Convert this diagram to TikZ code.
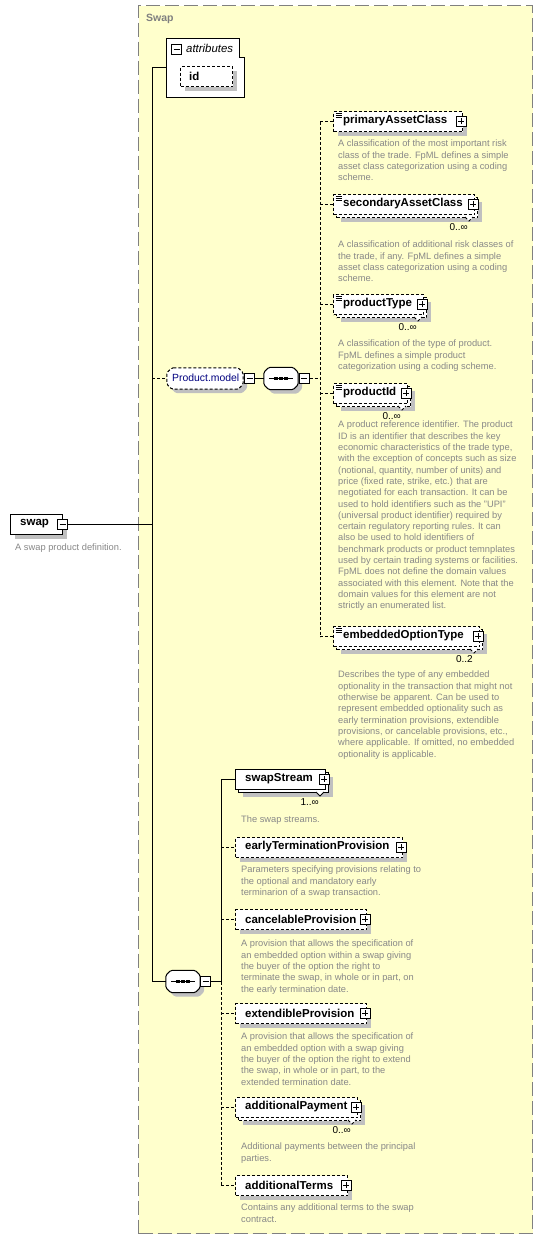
\documentclass[tikz,border=0pt]{standalone}
\usepackage{fontspec}
\setmainfont{Liberation Sans}
\usetikzlibrary{shadows}
\definecolor{yel}{RGB}{255,255,204}
\definecolor{shc}{RGB}{192,192,192}
\definecolor{dscc}{RGB}{136,136,136}
\definecolor{grpc}{RGB}{128,128,128}
\definecolor{navyc}{RGB}{0,0,128}
\tikzset{
 ebox/.style={draw=black, fill=white, line width=1pt, rectangle, inner sep=0pt, anchor=north west},
 opt/.style={dash pattern=on 3pt off 2pt},
 req/.style={},
 shad/.style={drop shadow={shadow xshift=4pt, shadow yshift=-4pt, fill=shc, draw=none, opacity=1}},
 lbl/.style={font=\fontsize{11.5}{13}\selectfont\bfseries, inner sep=0pt, anchor=west},
 dsc/.style={font=\fontsize{9.3}{11.3}\selectfont, text=dscc, align=left, inner sep=0pt, anchor=north west},
 occ/.style={font=\fontsize{10}{12}\selectfont, inner sep=0pt, anchor=east},
 pbox/.style={draw, fill=white, line width=1pt, minimum size=10pt, inner sep=0pt,
   path picture={\draw[line width=1pt] ([xshift=2pt]path picture bounding box.west) -- ([xshift=-2pt]path picture bounding box.east);
                 \draw[line width=1pt] ([yshift=-2pt]path picture bounding box.north) -- ([yshift=2pt]path picture bounding box.south);}},
 mbox/.style={draw, fill=white, line width=1pt, minimum size=10pt, inner sep=0pt,
   path picture={\draw[line width=1pt] ([xshift=2pt]path picture bounding box.west) -- ([xshift=-2pt]path picture bounding box.east);}},
 hold/.style={rectangle, inner sep=0pt},
 conn/.style={line width=1pt},
 dconn/.style={line width=1pt, dash pattern=on 3pt off 2pt},
}
% chamfered outline of a node: name, chamfer, offset x, offset y
\newcommand\champath[4]{([shift={(#3+#2,#4)}]#1.north west) -- ([shift={(#3-#2,#4)}]#1.north east) -- ([shift={(#3,#4+#2)}]#1.north east) -- ([shift={(#3,#4-#2)}]#1.south east) -- ([shift={(#3-#2,#4)}]#1.south east) -- ([shift={(#3+#2,#4)}]#1.south west) -- ([shift={(#3,#4-#2)}]#1.south west) -- ([shift={(#3,#4+#2)}]#1.north west) -- cycle}
% chamfered box: name, center, width, height, style
\newcommand\chambox[5]{%
  \node[hold,minimum width=#3,minimum height=#4] (#1) at (#2) {};
  \fill[shc,rounded corners=1.5pt] \champath{#1}{5}{4}{4};
  \draw[line width=1pt,fill=white,rounded corners=1.5pt,#5] \champath{#1}{5}{0}{0};
}
% single element: name, x, ytext, width, label, border style
\newcommand\single[6]{%
  \node[ebox,shad,#6,minimum width=#4,minimum height=20] (#1) at (#2,#3-10) {};
  \node[lbl] (#1t) at (#2+10,#3) {#5};
  \node[pbox] (#1p) at (#2+#4-1,#3) {};
}
% multiple element: name, x, ytext, width, label, border style, occurrence
\newcommand\multi[7]{%
  \node[ebox,shad,#6,minimum width=#4,minimum height=20] (#1b) at (#2+3,#3-7) {};
  \draw[line width=0.8pt,#6,fill=white] (#2+#4-9,#3+13) -- (#2+#4-5,#3+17) -- (#2+#4-1,#3+13);
  \node[ebox,#6,minimum width=#4,minimum height=20] (#1) at (#2,#3-10) {};
  \node[lbl] (#1t) at (#2+10,#3) {#5};
  \node[pbox] (#1p) at (#2+#4-1,#3) {};
  \node[occ] (#1o) at (#2+#4-6,#3+23) {#7};
}
\newcommand\simpicon[1]{%
  \foreach \dy in {1.8,3.9,6.0} \draw[line width=0.6pt] ([shift={(2.5,\dy)}]#1.north west) -- ++(6,0);
}
\newcommand\seqicon[1]{%
  \draw[line width=1pt] ([xshift=5pt]#1.west) -- ([xshift=-5pt]#1.east);
  \foreach \dx in {-5,0,5} \fill ([shift={(\dx-1.6,-1.6)}]#1.center) rectangle ++(3.2,3.2);
}
\begin{document}
\begin{tikzpicture}[x=1pt,y=-1pt]
\useasboundingbox (0,0) rectangle (543,1240);
\fill[white] (0,0) rectangle (543,1240);
% group
\node[draw=grpc, fill=yel, dash pattern=on 14pt off 5pt, line width=1pt, minimum width=394, minimum height=1228, anchor=north west, inner sep=0pt] (grp) at (138,5) {};
\node[font=\fontsize{10.5}{12}\selectfont\bfseries, text=grpc, anchor=west, inner sep=0pt] (grpt) at (146,19) {Swap};
% attributes
\node[hold, minimum width=78, minimum height=59, anchor=north west] (attr) at (166,38) {};
\draw[line width=1pt, fill=white] (attr.north west) -- ([xshift=-5pt]attr.north east) -- ([shift={(-5,19)}]attr.north east) -- ([yshift=-19pt]attr.north east) -- (attr.south east) -- (attr.south west) -- cycle;
\node[mbox] (attrm) at (176.5,49) {};
\node[font=\fontsize{11.4}{13}\selectfont\itshape, anchor=west, inner sep=0pt] (attrt) at (186,48) {attributes};
\node[ebox,shad,opt,minimum width=52,minimum height=20] (id) at (180,66) {};
\node[lbl] (idt) at (189,76) {id};
% root
\node[ebox,shad,minimum width=52,minimum height=20] (swap) at (10,514) {};
\node[lbl] (swapt) at (20,524) {swap};
\node[mbox] (swapm) at (62.5,524.5) {};
\node[dsc] (swapd) at (15,544) {A swap product definition.};
% product model group
\chambox{pm}{205,378.5}{76}{21}{opt}
\node[font=\fontsize{10.4}{12}\selectfont, text=navyc, anchor=west, inner sep=0pt] (pmt) at (172,378) {Product.model};
\node[mbox] (pmm) at (249.5,378.5) {};
\chambox{seq1}{281,378.5}{34}{22}{}
\seqicon{seq1}
\node[mbox] (seq1m) at (304,378.5) {};
% product model children
\single{pac}{333}{121}{129}{primaryAssetClass}{opt}
\simpicon{pac}
\node[dsc] (pacd) at (338,140) {A classification of the most important risk\\class of the trade. FpML defines a simple\\asset class categorization using a coding\\scheme.};
\multi{sac}{333}{204}{141}{secondaryAssetClass}{opt}{0..∞}
\simpicon{sac}
\node[dsc] (sacd) at (338,241) {A classification of additional risk classes of\\the trade, if any. FpML defines a simple\\asset class categorization using a coding\\scheme.};
\multi{pt}{333}{304}{90}{productType}{opt}{0..∞}
\simpicon{pt}
\node[dsc] (ptd) at (338,340) {A classification of the type of product.\\FpML defines a simple product\\categorization using a coding scheme.};
\multi{pid}{333}{393}{74}{productId}{opt}{0..∞}
\simpicon{pid}
\node[dsc] (pidd) at (338,421) {A product reference identifier. The product\\ID is an identifier that describes the key\\economic characteristics of the trade type,\\with the exception of concepts such as size\\(notional, quantity, number of units) and\\price (fixed rate, strike, etc.) that are\\negotiated for each transaction. It can be\\used to hold identifiers such as the "UPI"\\(universal product identifier) required by\\certain regulatory reporting rules. It can\\also be used to hold identifiers of\\benchmark products or product temnplates\\used by certain trading systems or facilities.\\FpML does not define the domain values\\associated with this element. Note that the\\domain values for this element are not\\strictly an enumerated list.};
\multi{eot}{333}{636}{146}{embeddedOptionType}{opt}{0..2}
\simpicon{eot}
\node[dsc] (eotd) at (338,671) {Describes the type of any embedded\\optionality in the transaction that might not\\otherwise be apparent. Can be used to\\represent embedded optionality such as\\early termination provisions, extendible\\provisions, or cancelable provisions, etc.,\\where applicable. If omitted, no embedded\\optionality is applicable.};
% bottom sequence
\chambox{seq2}{183,981.5}{34}{22}{}
\seqicon{seq2}
\node[mbox] (seq2m) at (205.5,981.5) {};
\multi{ss}{235}{779}{90}{swapStream}{req}{1..∞}
\node[dsc] (ssd) at (241,816) {The swap streams.};
\single{etp}{235}{847}{167}{earlyTerminationProvision}{opt}
\node[dsc] (etpd) at (241,866) {Parameters specifying provisions relating to\\the optional and mandatory early\\terminarion of a swap transaction.};
\single{cp}{235}{919}{131}{cancelableProvision}{opt}
\node[dsc] (cpd) at (241,940) {A provision that allows the specification of\\an embedded option within a swap giving\\the buyer of the option the right to\\terminate the swap, in whole or in part, on\\the early termination date.};
\single{ep}{235}{1013}{131}{extendibleProvision}{opt}
\node[dsc] (epd) at (241,1033) {A provision that allows the specification of\\an embedded option with a swap giving\\the buyer of the option the right to extend\\the swap, in whole or in part, to the\\extended termination date.};
\multi{ap}{235}{1107}{122}{additionalPayment}{opt}{0..∞}
\node[dsc] (apd) at (241,1143) {Additional payments between the principal\\parties.};
\single{at}{235}{1185}{112}{additionalTerms}{opt}
\node[dsc] (atd) at (241,1204) {Contains any additional terms to the swap\\contract.};
% connectors
\coordinate (m) at (152,524.5);
\draw[conn] (swapm.east) -- (m);
\draw[conn] (attr.west -| m) -- (seq2.west -| m);
\draw[conn] (attr.west -| m) -- (attr.west);
\draw[dconn] (pm.west -| m) -- (pm.west);
\draw[conn] (seq2.west -| m) -- (seq2.west);
\draw[conn] (pmm.east) -- (seq1.west);
\coordinate (j1) at (320,378.5);
\draw[dconn] (seq1m.east) -- (j1);
\draw[dconn] (pac.west -| j1) -- (eot.west -| j1);
\foreach \n in {pac,sac,pt,pid,eot} \draw[dconn] (\n.west -| j1) -- (\n.west);
\coordinate (j2) at (221,981.5);
\draw[conn] (seq2m.east) -- (j2);
\draw[conn] (ss.west -| j2) -- (j2);
\draw[dconn] (j2) -- (at.west -| j2);
\draw[conn] (ss.west -| j2) -- (ss.west);
\foreach \n in {etp,cp,ep,ap,at} \draw[dconn] (\n.west -| j2) -- (\n.west);
\end{tikzpicture}
\end{document}
